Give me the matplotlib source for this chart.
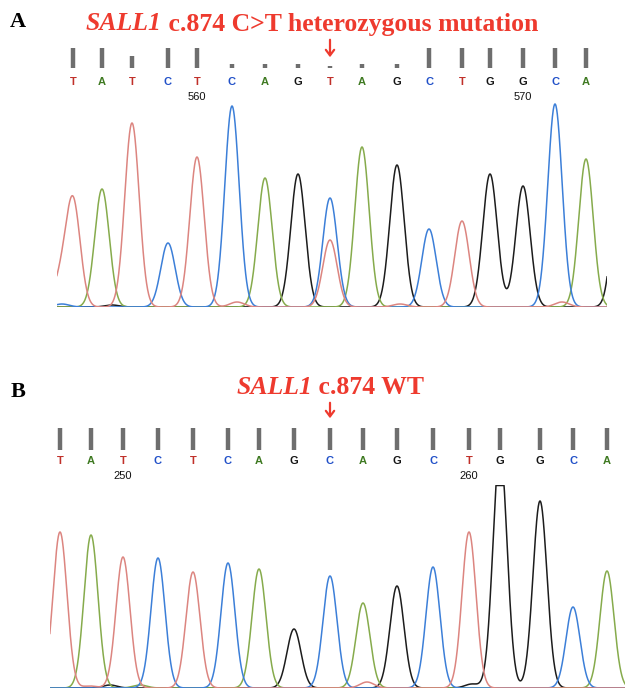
import numpy as np
import matplotlib
matplotlib.use('Agg')
import matplotlib.pyplot as plt
from matplotlib import transforms

# ---- data ----
# Panel A: SALL1 c.874 C>T heterozygous
bases_a = list('TATCTCAGTAGCTGGCA')
scan_a = [73, 102, 132, 168, 197, 232, 265, 298, 330, 362, 397, 429, 462, 490, 523, 555, 586]
height_a = [106, 118, 184, 64, 150, 201, 129, 133, 67, 160, 142, 78, 86, 133, 121, 203, 148]
qual_a = [50, 50, 30, 50, 50, 9, 9, 9, 4, 9, 9, 50, 50, 50, 50, 50, 50]
# minor / secondary peaks (channel, scan, height)
extra_a = [('C', 330, 109), ('T', 60, 25), ('T', 237, 5), ('T', 400, 3), ('T', 562, 5),
           ('G', 620, 150), ('C', 62, 3), ('G', 112, 2)]
ruler_a = {4: '560', 14: '570'}

# Panel B: SALL1 c.874 wild type
bases_b = list('TATCTCAGCAGCTGGCA')
scan_b = [60, 91, 123, 158, 193, 228, 259, 294, 330, 363, 397, 433, 469, 500, 540, 573, 607]
height_b = [156, 153, 131, 130, 116, 125, 119, 59, 112, 85, 102, 121, 156, 240, 187, 81, 117]
qual_b = [50] * 17
extra_b = [('T', 367, 6), ('G', 472, 4), ('G', 110, 3), ('A', 140, 3), ('T', 90, 2)]
ruler_b = {2: '250', 12: '260'}

trace_col = {'T': '#dc8580', 'A': '#86ab4c', 'C': '#3c7fd8', 'G': '#1c1c1c'}
call_col = {'T': '#c0302a', 'A': '#3f7a22', 'C': '#2150c8', 'G': '#151515'}
RED = '#ee3a2e'

W, H = 625, 692
fig = plt.figure(figsize=(W / 100, H / 100), dpi=100)


def fy(p):
    return 1 - p / H


def fx(p):
    return p / W


def panel(bases, scan, height, qual, extra, ruler, box, ymax, sigma, bar_px, bar_bot, let_y, num_y):
    x0, x1, base_y, top_y = box
    ax = fig.add_axes([fx(x0), fy(base_y), fx(x1 - x0), (base_y - top_y) / H])
    ax.set_xlim(x0, x1)
    ax.set_ylim(0, ymax)
    ax.axis('off')
    xs = np.linspace(x0 - 30, x1 + 30, 3000)
    for ch in ['G', 'A', 'C', 'T']:
        y = np.zeros_like(xs)
        for b, s, h in zip(bases, scan, height):
            if b == ch:
                y += h * np.exp(-(xs - s) ** 2 / (2 * sigma ** 2))
        for c, s, h in extra:
            if c == ch:
                y += h * np.exp(-(xs - s) ** 2 / (2 * sigma ** 2))
        # saturated signal is cut flat at the top of the window
        y = np.minimum(y, ymax - 0.5)
        ax.plot(xs, y, color=trace_col[ch], lw=1.1)

    bl = transforms.blended_transform_factory(ax.transData, fig.transFigure)
    for i, (b, s, q) in enumerate(zip(bases, scan, qual)):
        ax.vlines(s, fy(bar_bot), fy(bar_bot - q * bar_px), transform=bl,
                  color='#6e6e6e', lw=3.2, clip_on=False)
        ax.text(s, fy(let_y), b, transform=bl, color=call_col[b], ha='center',
                va='center', fontsize=8, fontweight='bold', family='Liberation Sans')
        if i in ruler:
            ax.text(s, fy(num_y), ruler[i], transform=bl, color='#111111', ha='center',
                    va='center', fontsize=8, family='Liberation Sans')
    return ax


ax_a = panel(bases_a, scan_a, height_a, qual_a, extra_a, ruler_a,
             (57, 607, 307, 100), 207, 7.2, 20 / 50, 68, 82, 97)
ax_b = panel(bases_b, scan_b, height_b, qual_b, extra_b, ruler_b,
             (50, 625, 688, 485), 203, 7.0, 22 / 50, 450, 461, 476)

# panel labels
fig.text(fx(18), fy(22), 'A', fontsize=16, fontweight='bold', family='Liberation Serif',
         ha='center', va='center')
fig.text(fx(18), fy(392), 'B', fontsize=16, fontweight='bold', family='Liberation Serif',
         ha='center', va='center')


def title(cx, cy, rest):
    fs = 18.5
    t1 = fig.text(0, fy(cy), 'SALL1', fontsize=fs, fontweight='bold', fontstyle='italic',
                  family='Liberation Serif', color=RED, va='center')
    t2 = fig.text(0, fy(cy), ' ' + rest, fontsize=fs, fontweight='bold',
                  family='Liberation Serif', color=RED, va='center')
    fig.canvas.draw()
    r = fig.canvas.get_renderer()
    w1 = t1.get_window_extent(r).width
    w2 = t2.get_window_extent(r).width
    left = cx - (w1 + w2) / 2
    t1.set_x(fx(left))
    t2.set_x(fx(left + w1))


title(312, 24, 'c.874 C>T heterozygous mutation')
title(330, 388, 'c.874 WT')

# arrows at the c.874 position
for top, bot in [(37, 60), (400, 421)]:
    fig.add_artist(matplotlib.patches.FancyArrowPatch(
        (fx(330), fy(top)), (fx(330), fy(bot)), transform=fig.transFigure,
        arrowstyle='->,head_length=4,head_width=3', color=RED, lw=1.6))

fig.savefig('out.png', dpi=100)
